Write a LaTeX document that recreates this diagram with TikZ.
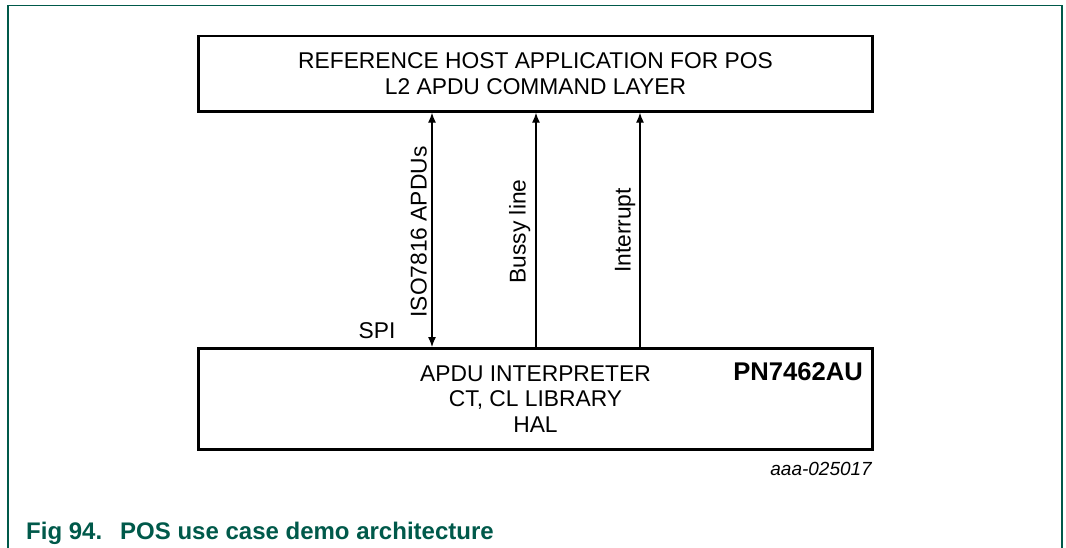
\documentclass[tikz,border=0pt]{standalone}
\usepackage{fontspec}
\setmainfont{Liberation Sans}
\usetikzlibrary{arrows.meta,positioning}
\definecolor{nxpgreen}{HTML}{00594A}

\begin{document}
\begin{tikzpicture}[x=1pt,y=-1pt,>={Latex[length=10pt,width=8pt]},
    layer/.style={draw,line width=2.6pt,minimum width=674.4pt,align=center,
      inner sep=0pt},
    sig/.style={line width=1.2pt},
    siglabel/.style={rotate=90,anchor=base,inner sep=0pt}]
  \useasboundingbox (0,0) rectangle (1066,548);
  \fontsize{22.8}{26}\selectfont
  % page frame, open at the bottom
  \draw[nxpgreen,line width=1.6pt] (8,548) -- (8,5.5) -- (1062,5.5) -- (1062,548);

  % the two layers
  \node[layer,minimum height=75.4pt] (host) at (535.5,73.7)
    {REFERENCE HOST APPLICATION FOR POS\\L2 APDU COMMAND LAYER};
  \node[layer,minimum height=101.4pt,font=\fontsize{22.8}{25.5}\selectfont]
    (chip) at (535.5,399)
    {APDU INTERPRETER\\CT, CL LIBRARY\\HAL};
  \node[anchor=base east,inner sep=0pt,font=\fontsize{25.6}{30}\selectfont\bfseries]
    (part) at (863,380) {PN7462AU};

  % signal lines between host and chip
  \coordinate (apdu) at (432,0);
  \coordinate (busy) at (536,0);
  \coordinate (irq) at (640,0);
  \draw[sig,<->] (apdu |- host.south) -- (apdu |- chip.north);
  \draw[sig,->] (busy |- chip.north) -- (busy |- host.south);
  \draw[sig,->] (irq |- chip.north) -- (irq |- host.south);
  \node[siglabel] (apdulbl) at (426.7,232) {ISO7816 APDUs};
  \node[siglabel] (busylbl) at (525.7,231.5) {Bussy line};
  \node[siglabel] (irqlbl) at (630.7,230.5) {Interrupt};
  \node[anchor=base,inner sep=0pt] (spi) at (377,338) {SPI};

  \node[anchor=base east,inner sep=0pt,font=\fontsize{19}{22}\selectfont\itshape]
    (figid) at (872,475) {aaa-025017};
  \node[anchor=base west,inner sep=0pt,text=nxpgreen,
        font=\fontsize{24}{28}\selectfont\bfseries] (caption) at (26,539)
    {Fig 94.\hspace{18pt}POS use case demo architecture};
\end{tikzpicture}
\end{document}
